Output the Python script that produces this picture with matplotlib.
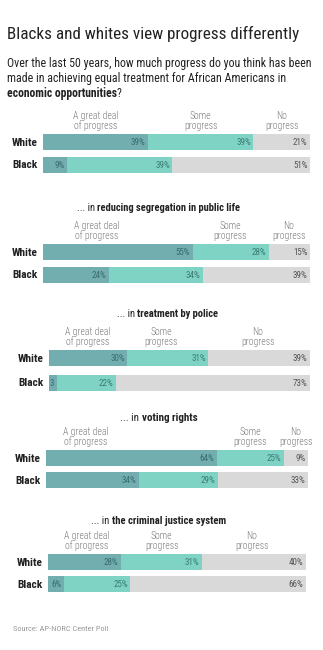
import matplotlib
matplotlib.use("Agg")
import matplotlib.pyplot as plt

plt.rcParams['font.family'] = ['Roboto Condensed', 'Asap Condensed', 'DejaVu Sans']

topics = ["economic opportunities", "reducing segregation in public life",
          "treatment by police", "voting rights", "the criminal justice system"]
groups = ["White", "Black"]
white_great = [39, 55, 30, 64, 28]
white_some = [39, 28, 31, 25, 31]
white_none = [21, 15, 39, 9, 40]
black_great = [9, 24, 3, 34, 6]
black_some = [39, 34, 22, 29, 25]
black_none = [51, 39, 73, 33, 66]
answers = ["A great deal\nof progress", "Some\nprogress", "No\nprogress"]

colors = ["#72adb0", "#7fd3c5", "#d9d9d9"]
pct_colors = ["#3a6c70", "#3a7c75", "#555555"]

W, H = 323, 650
fig = plt.figure(figsize=(W / 100, H / 100), dpi=100)
fig.patch.set_facecolor("white")

# layout (pixels): bar left, bar right, white row y, black row y, title y, title width
layout = [
    (43, 310, 142, 165, None, None),
    (43, 310, 252, 275, 207, 165),
    (49, 310, 358, 383, 313, 102),
    (46, 308, 458, 480, 417, 77),
    (48, 306, 562, 584, 520, 136),
]
# header centers as % of bar width
header_x = [
    [19.7, 59, 89.5],
    [20, 70, 92],
    [15, 43, 80],
    [15, 78, 95.4],
    [15, 44, 79],
]


def fx(x):
    return x / W


def fy(y):
    return 1 - y / H


renderer = fig.canvas.get_renderer()


def text_width(s, size, weight="normal"):
    t = fig.text(0, 0, s, fontsize=size, weight=weight)
    w = t.get_window_extent(renderer).width
    t.remove()
    return w


def fit(s, target, weight="normal"):
    return 10 * target / text_width(s, 10, weight)


def mixed(parts, x, y, target, ha="left"):
    total = sum(text_width(s, 10, w) for s, w in parts)
    size = 10 * target / total
    txts = []
    for s, w in parts:
        t = fig.text(0, fy(y), s, fontsize=size, weight=w, va="baseline", color="#222222")
        txts.append(t)
    widths = [t.get_window_extent(renderer).width for t in txts]
    start = x - sum(widths) / 2 if ha == "center" else x
    for t, wd in zip(txts, widths):
        t.set_x(fx(start))
        start += wd


title = "Blacks and whites view progress differently"
fig.text(fx(7), fy(39), title, fontsize=fit(title, 290), color="#222222", va="baseline")
sub1 = "Over the last 50 years, how much progress do you think has been"
sub_size = fit(sub1, 303)
fig.text(fx(7), fy(67), sub1, fontsize=sub_size, color="#222222", va="baseline")
fig.text(fx(7), fy(82), "made in achieving equal treatment for African Americans in",
         fontsize=sub_size, color="#222222", va="baseline")
mixed([(topics[0], "bold"), ("?", "normal")], 7, 97, 115)

row_size = fit("White", 26, "bold")
pct_size = fit("39%", 14.5)
head_size = fit("A great deal", 45, "light")

for i, (left, right, yw, yb, ty, tw) in enumerate(layout):
    ax = fig.add_axes([fx(left), fy(yb + 9), (right - left) / W, (yb - yw + 18) / H])
    ax.set_xlim(0, 100)
    ax.set_ylim(yb + 9, yw - 9)
    ax.axis("off")
    px = 100 / (right - left)
    rows = [
        (yw, [white_great[i], white_some[i], white_none[i]]),
        (yb, [black_great[i], black_some[i], black_none[i]]),
    ]
    for (yy, vals), g in zip(rows, groups):
        total = sum(vals)
        start = 0
        for k, v in enumerate(vals):
            w = v / total * 100
            ax.barh(yy, w, left=start, height=15.5, color=colors[k], linewidth=0)
            lab = f"{v}%" if v >= 5 else str(v)
            ax.text(start + w - 2.5 * px, yy + 0.5, lab, ha="right", va="center",
                    fontsize=pct_size, color=pct_colors[k])
            start += w
        ax.text(-5 * px, yy + 0.5, g, ha="right", va="center", fontsize=row_size,
                weight="bold", color="#222222", clip_on=False)
    for k, a in enumerate(answers):
        ax.text(header_x[i][k], yw - 11, a, ha="center", va="bottom", fontsize=head_size,
                weight="light", color="#7a7a7a", linespacing=0.95, clip_on=False)
    if ty is not None:
        mixed([("... in ", "normal"), (topics[i], "bold")], (left + right) / 2 - 18 + (6 if i == 2 else 0),
              ty + 4, tw, ha="center")

src = "Source: AP-NORC Center Poll"
fig.text(fx(13), fy(631), src, fontsize=fit(src, 96), color="#9a9a9a", va="baseline")

fig.savefig("out.png", dpi=100)
